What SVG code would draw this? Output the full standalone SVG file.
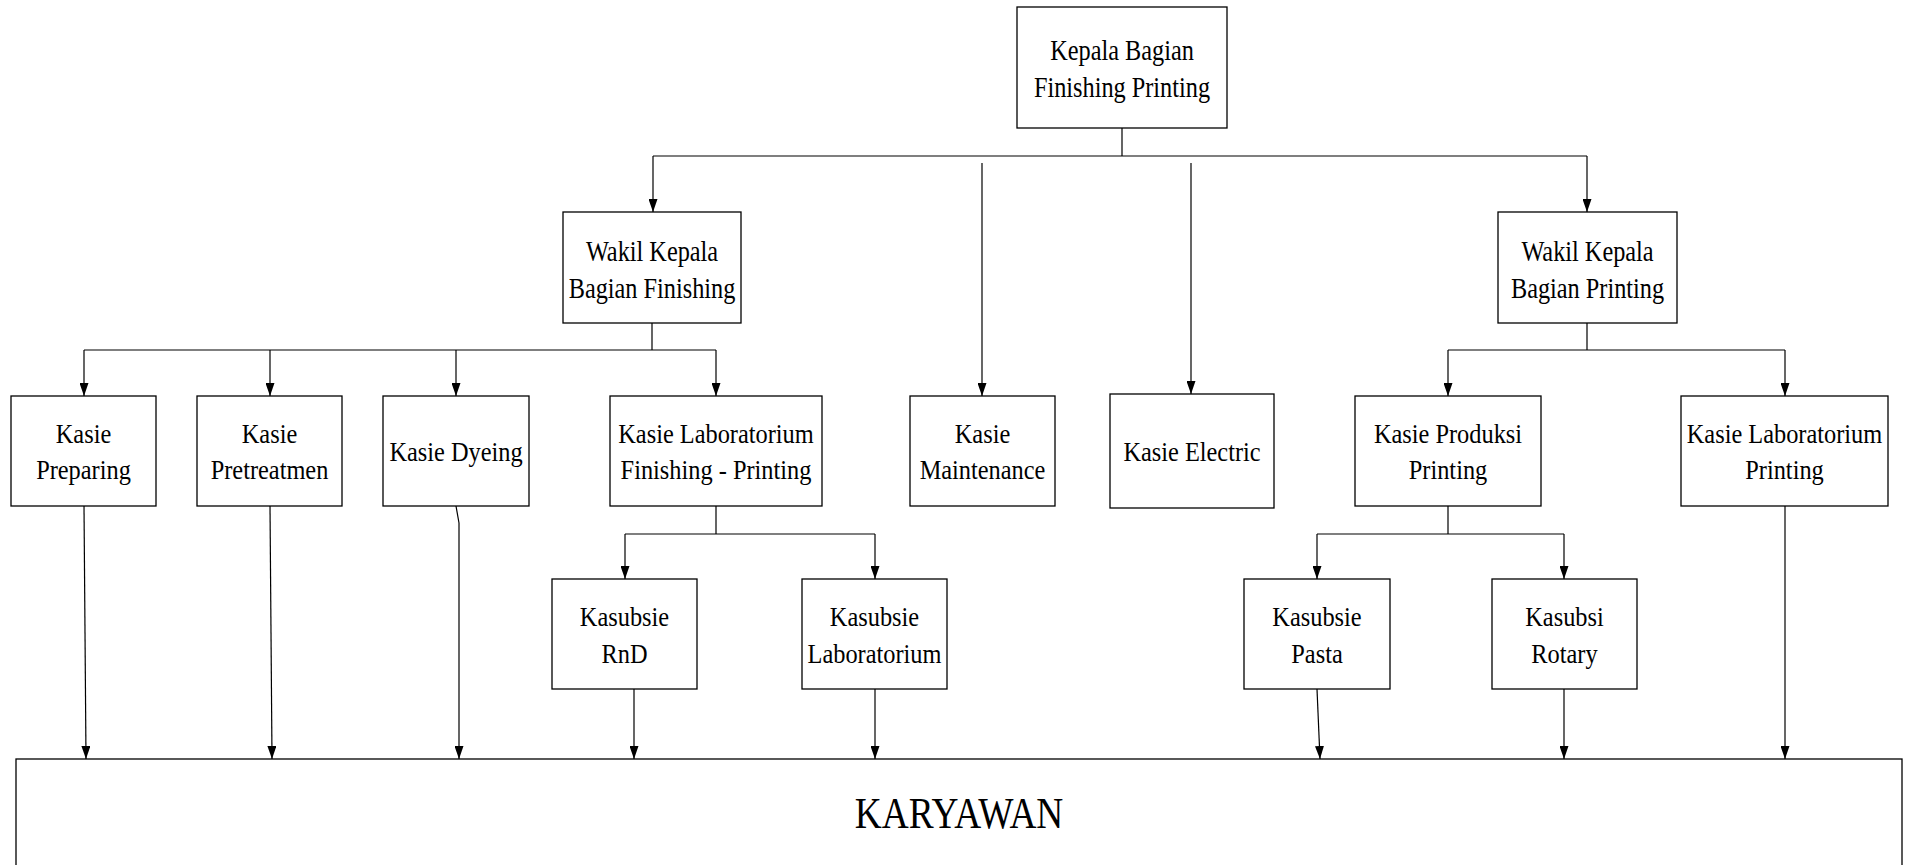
<svg xmlns="http://www.w3.org/2000/svg" width="1906" height="865" viewBox="0 0 1906 865">
  <style>
    .box { fill: #ffffff; stroke: #000000; stroke-width: 1.3; }
    .lbl { font-family: "Liberation Serif", "Times New Roman", serif; fill: #000000; text-anchor: middle; }
    .big { font-size: 30px; }
    .mid { font-size: 28px; }
    .huge { font-size: 45px; }
    .wire { fill: none; stroke: #000000; stroke-width: 1.2; }
    .arr { marker-end: url(#ah); }
  </style>
  <defs>
    <marker id="ah" viewBox="0 0 13 9" refX="13" refY="4.5" markerWidth="13" markerHeight="9" markerUnits="userSpaceOnUse" orient="auto">
      <path d="M0,0 L13,4.5 L0,9 z" fill="#000000"/>
    </marker>
  </defs>
  <rect width="1906" height="865" fill="#ffffff"/>

  <!-- connectors -->
  <g id="connectors">
    <path class="wire" d="M1122,128 V156 M653,156 H1587"/>
    <path class="wire arr" d="M653,156 V212"/>
    <path class="wire arr" d="M1587,156 V212"/>
    <path class="wire arr" d="M982,163 V396"/>
    <path class="wire arr" d="M1191,163 V394"/>

    <path class="wire" d="M652,323 V350 M84,350 H716"/>
    <path class="wire arr" d="M84,350 V396"/>
    <path class="wire arr" d="M270,350 V396"/>
    <path class="wire arr" d="M456,350 V396"/>
    <path class="wire arr" d="M716,350 V396"/>

    <path class="wire" d="M1587,323 V350 M1448,350 H1785"/>
    <path class="wire arr" d="M1448,350 V396"/>
    <path class="wire arr" d="M1785,350 V396"/>

    <path class="wire" d="M716,506 V534 M625,534 H875"/>
    <path class="wire arr" d="M625,534 V579"/>
    <path class="wire arr" d="M875,534 V579"/>

    <path class="wire" d="M1448,506 V534 M1317,534 H1564"/>
    <path class="wire arr" d="M1317,534 V579"/>
    <path class="wire arr" d="M1564,534 V579"/>

    <path class="wire arr" d="M84,506 L86,759"/>
    <path class="wire arr" d="M270,506 L272,759"/>
    <path class="wire arr" d="M456,506 L459,523 L459,759"/>
    <path class="wire arr" d="M634,689 V759"/>
    <path class="wire arr" d="M875,689 V759"/>
    <path class="wire arr" d="M1317,689 L1320,759"/>
    <path class="wire arr" d="M1564,689 V759"/>
    <path class="wire arr" d="M1785,506 V759"/>
  </g>

  <!-- nodes -->
  <g id="kepala-bagian">
    <rect class="box" x="1017" y="7" width="210" height="121"/>
    <text class="lbl big" transform="translate(1122 0) scale(0.81 1)"><tspan x="0" y="60">Kepala Bagian</tspan><tspan x="0" y="97">Finishing Printing</tspan></text>
  </g>
  <g id="wakil-finishing">
    <rect class="box" x="563" y="212" width="178" height="111"/>
    <text class="lbl big" transform="translate(652 0) scale(0.81 1)"><tspan x="0" y="261">Wakil Kepala</tspan><tspan x="0" y="298">Bagian Finishing</tspan></text>
  </g>
  <g id="wakil-printing">
    <rect class="box" x="1498" y="212" width="179" height="111"/>
    <text class="lbl big" transform="translate(1587.5 0) scale(0.81 1)"><tspan x="0" y="261">Wakil Kepala</tspan><tspan x="0" y="298">Bagian Printing</tspan></text>
  </g>

  <g id="kasie-preparing">
    <rect class="box" x="11" y="396" width="145" height="110"/>
    <text class="lbl mid" transform="translate(83.5 0) scale(0.87 1)"><tspan x="0" y="443">Kasie</tspan><tspan x="0" y="479">Preparing</tspan></text>
  </g>
  <g id="kasie-pretreatmen">
    <rect class="box" x="197" y="396" width="145" height="110"/>
    <text class="lbl mid" transform="translate(269.5 0) scale(0.87 1)"><tspan x="0" y="443">Kasie</tspan><tspan x="0" y="479">Pretreatmen</tspan></text>
  </g>
  <g id="kasie-dyeing">
    <rect class="box" x="383" y="396" width="146" height="110"/>
    <text class="lbl mid" transform="translate(456 0) scale(0.87 1)"><tspan x="0" y="461">Kasie Dyeing</tspan></text>
  </g>
  <g id="kasie-lab-fp">
    <rect class="box" x="610" y="396" width="212" height="110"/>
    <text class="lbl mid" transform="translate(716 0) scale(0.87 1)"><tspan x="0" y="443">Kasie Laboratorium</tspan><tspan x="0" y="479">Finishing - Printing</tspan></text>
  </g>
  <g id="kasie-maintenance">
    <rect class="box" x="910" y="396" width="145" height="110"/>
    <text class="lbl mid" transform="translate(982.5 0) scale(0.87 1)"><tspan x="0" y="443">Kasie</tspan><tspan x="0" y="479">Maintenance</tspan></text>
  </g>
  <g id="kasie-electric">
    <rect class="box" x="1110" y="394" width="164" height="114"/>
    <text class="lbl mid" transform="translate(1192 0) scale(0.87 1)"><tspan x="0" y="461">Kasie Electric</tspan></text>
  </g>
  <g id="kasie-produksi">
    <rect class="box" x="1355" y="396" width="186" height="110"/>
    <text class="lbl mid" transform="translate(1448 0) scale(0.87 1)"><tspan x="0" y="443">Kasie Produksi</tspan><tspan x="0" y="479">Printing</tspan></text>
  </g>
  <g id="kasie-lab-printing">
    <rect class="box" x="1681" y="396" width="207" height="110"/>
    <text class="lbl mid" transform="translate(1784.5 0) scale(0.87 1)"><tspan x="0" y="443">Kasie Laboratorium</tspan><tspan x="0" y="479">Printing</tspan></text>
  </g>

  <g id="kasubsie-rnd">
    <rect class="box" x="552" y="579" width="145" height="110"/>
    <text class="lbl mid" transform="translate(624.5 0) scale(0.87 1)"><tspan x="0" y="626">Kasubsie</tspan><tspan x="0" y="663">RnD</tspan></text>
  </g>
  <g id="kasubsie-lab">
    <rect class="box" x="802" y="579" width="145" height="110"/>
    <text class="lbl mid" transform="translate(874.5 0) scale(0.87 1)"><tspan x="0" y="626">Kasubsie</tspan><tspan x="0" y="663">Laboratorium</tspan></text>
  </g>
  <g id="kasubsie-pasta">
    <rect class="box" x="1244" y="579" width="146" height="110"/>
    <text class="lbl mid" transform="translate(1317 0) scale(0.87 1)"><tspan x="0" y="626">Kasubsie</tspan><tspan x="0" y="663">Pasta</tspan></text>
  </g>
  <g id="kasubsi-rotary">
    <rect class="box" x="1492" y="579" width="145" height="110"/>
    <text class="lbl mid" transform="translate(1564.5 0) scale(0.87 1)"><tspan x="0" y="626">Kasubsi</tspan><tspan x="0" y="663">Rotary</tspan></text>
  </g>

  <g id="karyawan">
    <rect class="box" x="16" y="759" width="1886" height="150"/>
    <text class="lbl huge" transform="translate(959 0) scale(0.83 1)"><tspan x="0" y="828">KARYAWAN</tspan></text>
  </g>
</svg>
